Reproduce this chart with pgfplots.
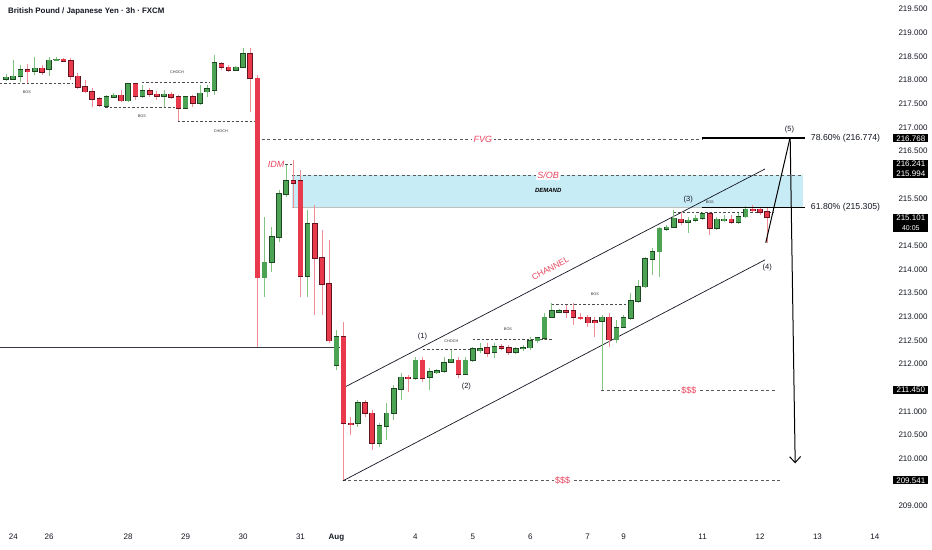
\documentclass[border=0pt]{standalone}
\usepackage{pgfplots}
\pgfplotsset{compat=1.18}
\usepackage{pgfplotstable}
\usepackage{fontspec}
\setmainfont{Liberation Sans}
\usetikzlibrary{arrows.meta}

\definecolor{gbody}{RGB}{76,163,84}
\definecolor{gedge}{RGB}{30,70,35}
\definecolor{gwick}{RGB}{130,195,130}
\definecolor{rbody}{RGB}{232,58,76}
\definecolor{redge}{RGB}{100,20,30}
\definecolor{rwick}{RGB}{240,140,150}
\definecolor{zone}{RGB}{200,236,246}
\definecolor{tvred}{RGB}{232,70,95}
\definecolor{tvtext}{RGB}{19,23,34}
\definecolor{dashgray}{RGB}{90,90,90}

\pgfplotstableread{
i o h l c
-1 218.02 218.13 217.98 218.06
0 218.02 218.42 218.00 218.08
1 218.08 218.32 217.96 218.21
3 218.19 218.49 218.11 218.25
5 218.23 218.49 218.08 218.42
6 218.42 218.49 218.40 218.44
13 217.45 217.68 217.43 217.64
14 217.64 217.72 217.62 217.68
16 217.56 217.94 217.53 217.92
18 217.66 217.89 217.62 217.77
21 217.66 217.79 217.43 217.70
24 217.41 217.66 217.39 217.64
26 217.51 217.89 217.47 217.72
27 217.75 217.89 217.64 217.81
28 217.79 218.53 217.68 218.36
31 218.21 218.30 218.19 218.27
32 218.27 218.68 218.25 218.55
35 213.82 215.11 213.42 214.15
36 214.15 214.89 213.94 214.68
37 214.68 215.68 214.58 215.59
38 215.59 216.20 215.53 215.87
41 213.86 215.25 213.42 214.96
45 211.98 212.72 211.87 212.57
48 210.75 211.24 210.67 211.18
51 210.33 210.75 210.25 210.69
52 210.69 211.18 210.39 210.96
53 210.96 211.56 210.82 211.47
54 211.47 211.81 211.24 211.72
56 211.70 212.15 211.66 212.08
58 211.72 211.92 211.45 211.83
59 211.83 211.89 211.79 211.85
60 211.85 212.15 211.81 212.02
61 212.04 212.29 212.03 212.10
63 211.79 212.15 211.77 212.08
64 212.08 212.36 212.04 212.32
65 212.29 212.44 212.23 212.32
67 212.25 212.44 212.13 212.36
70 212.25 212.36 212.21 212.32
71 212.32 212.40 212.27 212.34
72 212.34 212.57 212.29 212.49
73 212.49 212.57 212.44 212.55
74 212.55 213.08 212.51 212.99
75 212.99 213.29 212.97 213.12
76 213.10 213.16 213.08 213.12
82 212.91 213.03 211.45 212.99
84 212.51 212.93 212.44 212.76
85 212.78 213.03 212.76 212.97
86 212.97 213.50 212.93 213.33
87 213.33 213.77 213.29 213.63
88 213.63 214.26 213.61 214.22
89 214.22 214.45 213.88 214.37
90 214.37 214.89 213.84 214.87
91 214.85 214.94 214.81 214.89
92 214.89 215.25 214.87 215.08
94 215.00 215.11 214.77 215.04
95 215.04 215.15 215.00 215.08
96 215.08 215.21 215.04 215.17
98 214.87 215.11 214.83 215.06
99 215.04 215.15 215.00 215.06
101 215.00 215.19 214.96 215.11
102 215.11 215.34 215.08 215.27
}\greendata

\pgfplotstableread{
i o h l c
2 218.21 218.34 217.94 218.19
4 218.25 218.32 218.11 218.17
7 218.44 218.46 218.38 218.40
8 218.40 218.46 218.00 218.08
9 218.08 218.15 217.81 217.85
10 217.85 218.00 217.72 217.75
11 217.75 217.83 217.43 217.60
12 217.60 217.64 217.43 217.47
15 217.68 217.79 217.53 217.56
17 217.92 217.94 217.58 217.66
19 217.77 217.83 217.64 217.70
20 217.70 217.77 217.58 217.66
22 217.70 217.75 217.60 217.64
23 217.64 217.68 217.13 217.41
25 217.64 217.68 217.43 217.51
29 218.34 218.38 218.21 218.27
30 218.27 218.32 218.17 218.21
33 218.55 218.68 217.32 218.04
34 218.04 218.11 212.36 213.82
39 215.87 216.31 215.30 215.82
40 215.87 216.10 213.42 213.86
42 214.96 215.36 213.03 214.24
43 214.24 214.83 213.03 213.69
44 213.69 214.62 212.44 212.49
46 212.57 212.89 209.54 210.75
47 210.75 210.88 210.50 210.73
49 211.18 211.24 210.88 210.96
50 210.96 211.03 210.18 210.33
55 211.72 211.77 211.41 211.70
57 212.08 212.15 211.62 211.70
62 212.08 212.15 211.70 211.79
66 212.34 212.44 212.15 212.23
68 212.36 212.42 212.29 212.34
69 212.34 212.40 212.19 212.25
77 213.12 213.25 212.97 213.10
78 213.12 213.29 212.82 212.99
79 212.99 213.08 212.93 212.97
80 212.99 213.03 212.78 212.87
81 212.91 212.99 212.57 212.87
83 212.99 213.08 212.36 212.51
93 215.06 215.21 214.94 215.00
97 215.17 215.21 214.72 214.87
100 215.06 215.15 214.96 215.00
103 215.27 215.36 215.21 215.25
104 215.27 215.32 215.15 215.21
105 215.21 215.32 214.56 215.10
}\reddata

\pgfplotsset{
  candle/.style n args={2}{draw=none, mark=none, forget plot,
    error bars/.cd, y dir=both, y explicit, error mark=none,
    error bar style={draw=#1, line width=#2, solid}},
}

\begin{document}
\begin{tikzpicture}
\begin{axis}[
  name=ax,
  scale only axis, width=895pt, height=522pt,
  xmin=-1.852, xmax=122.8, ymin=208.661, ymax=219.69,
  clip=false,
  axis line style={draw=none},
  major tick length=0pt,
  /pgf/number format/assume math mode=true,
  ytick={209,210,210.5,211,212,212.5,213,213.5,214,214.5,215.5,216.5,217,217.5,218,218.5,219,219.5},
  yticklabel pos=right,
  yticklabel style={font=\fontsize{8}{9}\selectfont, text=tvtext, /pgf/number format/.cd, fixed, fixed zerofill, precision=3, 1000 sep={}},
  xtick={0,5,16,24,32,40,45,56,64,72,80,85,96,104,112,120},
  xticklabels={24,26,28,29,30,31,\textbf{Aug},4,5,6,7,9,11,12,13,14},
  xticklabel style={font=\fontsize{8}{9}\selectfont, text=tvtext, yshift=-8pt},
]
% zone
\addplot[fill=zone, draw=none, forget plot] coordinates {(38.8,215.30) (110.0,215.30) (110.0,215.994) (38.8,215.994)} -- cycle;
\addplot[draw=black!25, line width=0.6pt, forget plot] coordinates {(38.8,215.30) (110.0,215.30)};
\addplot[dashgray, line width=0.6pt, dash pattern=on 3pt off 2.5pt, forget plot] coordinates {(38.8,215.994) (110.0,215.994)};
% FVG line
\addplot[dashgray, line width=0.6pt, dash pattern=on 3pt off 2.5pt, forget plot] coordinates {(34.6,216.75) (95.9,216.75)};
% left horizontal line
\addplot[tvtext!85, line width=0.8pt, forget plot] coordinates {(-1.852,212.36) (45.5,212.36)};
% structure dashed lines
\addplot[black!70, line width=0.5pt, dash pattern=on 2.5pt off 2pt, forget plot] coordinates {(-1.852,217.94) (8.3,217.94)};
\addplot[black!70, line width=0.5pt, dash pattern=on 2.5pt off 2pt, forget plot] coordinates {(5.5,218.44) (7.2,218.44)};
\addplot[black!70, line width=0.5pt, dash pattern=on 2.5pt off 2pt, forget plot] coordinates {(17.9,217.96) (27.4,217.96)};
\addplot[black!70, line width=0.5pt, dash pattern=on 2.5pt off 2pt, forget plot] coordinates {(12.8,217.43) (22.9,217.43)};
\addplot[black!70, line width=0.5pt, dash pattern=on 2.5pt off 2pt, forget plot] coordinates {(22.9,217.13) (33.7,217.13)};
\addplot[black!70, line width=0.5pt, dash pattern=on 2.5pt off 2pt, forget plot] coordinates {(37.9,216.22) (38.9,216.22)};
\addplot[black!70, line width=0.5pt, dash pattern=on 2.5pt off 2pt, forget plot] coordinates {(57,212.32) (64,212.32)};
\addplot[black!70, line width=0.5pt, dash pattern=on 2.5pt off 2pt, forget plot] coordinates {(64,212.53) (75.2,212.53)};
\addplot[black!70, line width=0.5pt, dash pattern=on 2.5pt off 2pt, forget plot] coordinates {(75,213.27) (85.9,213.27)};
\addplot[black!70, line width=0.5pt, dash pattern=on 2.5pt off 2pt, forget plot] coordinates {(92,215.21) (105.8,215.21)};
% liquidity lines
\addplot[dashgray, line width=0.6pt, dash pattern=on 3pt off 2.5pt, forget plot] coordinates {(81.9,211.45) (106.1,211.45)};
\addplot[dashgray, line width=0.6pt, dash pattern=on 3pt off 2.5pt, forget plot] coordinates {(45.9,209.54) (106.8,209.54)};
% channel
\addplot[tvtext, line width=0.7pt, forget plot] coordinates {(45.9,211.49) (104.7,216.12)};
\addplot[tvtext, line width=0.7pt, forget plot] coordinates {(45.9,209.53) (104.7,214.20)};
% candles: wicks
\addplot[candle={gwick}{0.9pt}]
  table[x=i, y expr={(\thisrow{h}+\thisrow{l})/2}, y error expr={(\thisrow{h}-\thisrow{l})/2}] {\greendata};
\addplot[candle={rwick}{0.9pt}]
  table[x=i, y expr={(\thisrow{h}+\thisrow{l})/2}, y error expr={(\thisrow{h}-\thisrow{l})/2}] {\reddata};
% candles: bodies
\addplot[candle={gedge}{5.6pt}]
  table[x=i, y expr={(\thisrow{o}+\thisrow{c})/2}, y error expr={abs(\thisrow{c}-\thisrow{o})/2+0.013}] {\greendata};
\addplot[candle={gbody}{4.3pt}]
  table[x=i, y expr={(\thisrow{o}+\thisrow{c})/2}, y error expr={abs(\thisrow{c}-\thisrow{o})/2}] {\greendata};
\addplot[candle={redge}{5.6pt}]
  table[x=i, y expr={(\thisrow{o}+\thisrow{c})/2}, y error expr={abs(\thisrow{c}-\thisrow{o})/2+0.013}] {\reddata};
\addplot[candle={rbody}{4.3pt}]
  table[x=i, y expr={(\thisrow{o}+\thisrow{c})/2}, y error expr={abs(\thisrow{c}-\thisrow{o})/2}] {\reddata};
% fib lines
\addplot[black, line width=1.6pt, forget plot] coordinates {(95.9,216.774) (110.3,216.774)};
\addplot[black, line width=1.6pt, forget plot] coordinates {(95.9,215.305) (110.3,215.305)};
% projection
\addplot[black, line width=1pt, forget plot] coordinates {(104.8,214.56) (108.2,216.79)};
\addplot[black, line width=1pt, -{Straight Barb[length=6pt,width=11pt]}, forget plot] coordinates {(108.2,216.79) (108.9,209.90)};

% texts
\node[anchor=west, font=\fontsize{7.9}{9}\bfseries, text=tvtext] at (axis cs:-1.2,219.44) {British Pound / Japanese Yen · 3h · FXCM};
\node[fill=white, inner sep=1.5pt, font=\fontsize{9}{10}\itshape, text=tvred] at (axis cs:65.4,216.75) {FVG};
\node[fill=white, inner sep=1.5pt, font=\fontsize{9}{10}\itshape, text=tvred] at (axis cs:74.5,215.98) {S/OB};
\node[font=\fontsize{6}{7}\bfseries\itshape, text=black] at (axis cs:74.5,215.66) {DEMAND};
\node[inner sep=1pt, font=\fontsize{9}{10}\itshape, text=tvred] at (axis cs:36.6,216.22) {IDM};
\node[rotate=28, inner sep=0pt, font=\fontsize{8.5}{10}\selectfont, text=tvred] at (axis cs:74.8,214.02) {CHANNEL};
\node[fill=white, inner sep=1.5pt, font=\fontsize{9}{10}\selectfont, text=tvred] at (axis cs:94.1,211.45) {\$\$\$};
\node[fill=white, inner sep=1.5pt, font=\fontsize{9}{10}\selectfont, text=tvred] at (axis cs:76.5,209.54) {\$\$\$};
\node[font=\fontsize{7.5}{9}\selectfont, text=tvtext] at (axis cs:57,212.57) {(1)};
\node[font=\fontsize{7.5}{9}\selectfont, text=tvtext] at (axis cs:63.1,211.53) {(2)};
\node[font=\fontsize{7.5}{9}\selectfont, text=tvtext] at (axis cs:94,215.47) {(3)};
\node[font=\fontsize{7.5}{9}\selectfont, text=tvtext] at (axis cs:105,214.03) {(4)};
\node[font=\fontsize{7.5}{9}\selectfont, text=tvtext] at (axis cs:108.1,216.96) {(5)};
\node[anchor=west, font=\fontsize{8.7}{10}\selectfont, text=tvtext] at (axis cs:110.6,216.774) {78.60\% (216.774)};
\node[anchor=west, font=\fontsize{8.7}{10}\selectfont, text=tvtext] at (axis cs:110.6,215.305) {61.80\% (215.305)};
% small structure labels
\node[font=\fontsize{3.8}{4}\selectfont, text=black!80] at (axis cs:1.9,217.75) {BOS};
\node[font=\fontsize{3.8}{4}\selectfont, text=black!80] at (axis cs:22.8,218.17) {CHOCH};
\node[font=\fontsize{3.8}{4}\selectfont, text=black!80] at (axis cs:17.9,217.24) {BOS};
\node[font=\fontsize{3.8}{4}\selectfont, text=black!80] at (axis cs:28.9,216.92) {CHOCH};
\node[font=\fontsize{3.8}{4}\selectfont, text=black!80] at (axis cs:61,212.48) {CHOCH};
\node[font=\fontsize{3.8}{4}\selectfont, text=black!80] at (axis cs:68.9,212.74) {BOS};
\node[font=\fontsize{3.8}{4}\selectfont, text=black!80] at (axis cs:81,213.48) {BOS};
\node[font=\fontsize{3.8}{4}\selectfont, text=black!80] at (axis cs:97,215.42) {BOS};
% price boxes
\node[fill=black, text=white, inner sep=1.2pt, minimum width=35pt, font=\fontsize{8}{9}\selectfont] at (axis cs:125.0,216.768) {216.768};
\node[fill=black, text=white, inner sep=1.2pt, minimum width=35pt, align=center, font=\fontsize{8}{10}\selectfont] at (axis cs:125.0,216.12) {216.241\\215.994};
\node[fill=black, text=white, inner sep=1.2pt, minimum width=35pt, align=center, font=\fontsize{8}{10}\selectfont] at (axis cs:125.0,214.98) {215.101\\{\fontsize{7}{8}\selectfont 40:05}};
\node[fill=black, text=white, inner sep=1.2pt, minimum width=35pt, font=\fontsize{8}{9}\selectfont] at (axis cs:125.0,211.45) {211.450};
\node[fill=black, text=white, inner sep=1.2pt, minimum width=35pt, font=\fontsize{8}{9}\selectfont] at (axis cs:125.0,209.541) {209.541};
\end{axis}
\pgfresetboundingbox
\path[use as bounding box] ([yshift=-28pt]ax.south west) rectangle ([xshift=37pt]ax.north east);
\end{tikzpicture}
\end{document}
